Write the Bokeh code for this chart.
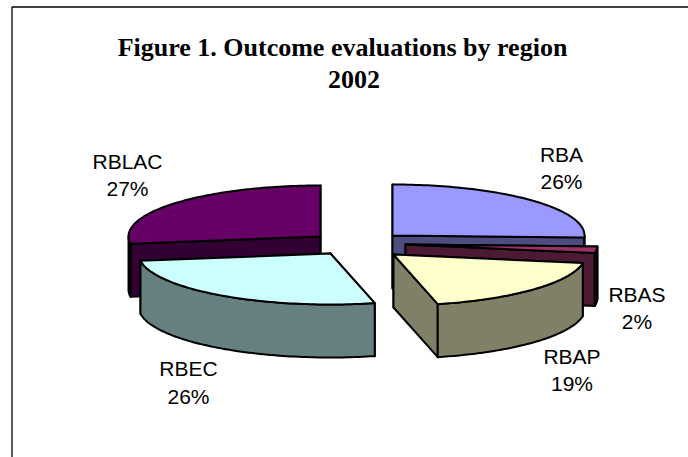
import numpy as np
from bokeh.plotting import figure
from bokeh.embed import file_html
from bokeh.resources import INLINE
from bokeh.core.properties import value

regions = ["RBA", "RBAS", "RBAP", "RBEC", "RBLAC"]
shares = [25.6, 2.1, 18.6, 26.4, 27.3]
top_colors = ["#9999ff", "#993366", "#ffffcc", "#ccffff", "#660066"]
side_colors = ["#4d4d80", "#4d1a33", "#808066", "#668080", "#330033"]
# exploded-slice apex positions in picture pixels (layout, not data)
apex = {"RBA": (392, 235), "RBAS": (405, 244), "RBAP": (393, 254),
        "RBEC": (330, 253), "RBLAC": (320, 236)}
label_pos = {"RBA": (561, 154, 180.5), "RBAS": (636.5, 294, 320.5), "RBAP": (571.5, 356, 383),
             "RBEC": (188, 368, 395.5), "RBLAC": (127, 161, 187.5)}
draw_order = ["RBA", "RBLAC", "RBAS", "RBEC", "RBAP"]
title_lines = ["Figure 1. Outcome evaluations by region", "2002"]
title_x = [342, 353.5]
title_y = [46.5, 78.5]
RX, RY, DEPTH = 192, 51, 53
LW = 2

p = figure(width=688, height=457, x_range=(0, 688), y_range=(457, 0),
           toolbar_location=None, output_backend="svg", min_border=0,
           outline_line_color=None, background_fill_color="white")
p.axis.visible = False
p.grid.visible = False

# chart frame (open at right and bottom, as cropped in the source)
p.line([11.5, 11.5, 688], [457, 6.5, 6.5], line_color="black", line_width=1.3)

cum = np.cumsum([0] + shares) * 3.6
start = dict(zip(regions, cum[:-1]))
end = dict(zip(regions, cum[1:]))


def rim(cx, cy, a0, a1):
    t = np.radians(np.linspace(a0, a1, 80))
    return cx + RX * np.sin(t), cy - RY * np.cos(t)


for name in draw_order:
    i = regions.index(name)
    cx, cy = apex[name]
    a0, a1 = start[name], end[name]
    top, side = top_colors[i], side_colors[i]
    style = dict(line_color="black", line_width=LW, line_join="round")
    # radial walls
    for a in (a0, a1):
        ex, ey = rim(cx, cy, a, a)
        p.patch([cx, ex[0], ex[0], cx], [cy, ey[0], ey[0] + DEPTH, cy + DEPTH],
                fill_color=side, **style)
    # front part of the outer wall
    f0, f1 = max(a0, 90), min(a1, 270)
    if f1 > f0:
        wx, wy = rim(cx, cy, f0, f1)
        p.patch(np.r_[wx, wx[::-1]], np.r_[wy, wy[::-1] + DEPTH],
                fill_color=side, **style)
    # top face
    tx, ty = rim(cx, cy, a0, a1)
    p.patch(np.r_[cx, tx], np.r_[cy, ty], fill_color=top, **style)

for name, share in zip(regions, shares):
    x, y1, y2 = label_pos[name]
    p.text([x, x], [y1, y2], text=[name, f"{round(share)}%"], text_align="center",
           text_baseline="middle", text_color="black",
           text_font=value("Liberation Sans"), text_font_size="21px")

p.text(title_x, title_y, text=title_lines, text_align="center",
       text_baseline="middle", text_color="black", text_font_style="bold",
       text_font=value("Liberation Serif"), text_font_size="26px")

open("out.html", "w").write(file_html(p, INLINE))
